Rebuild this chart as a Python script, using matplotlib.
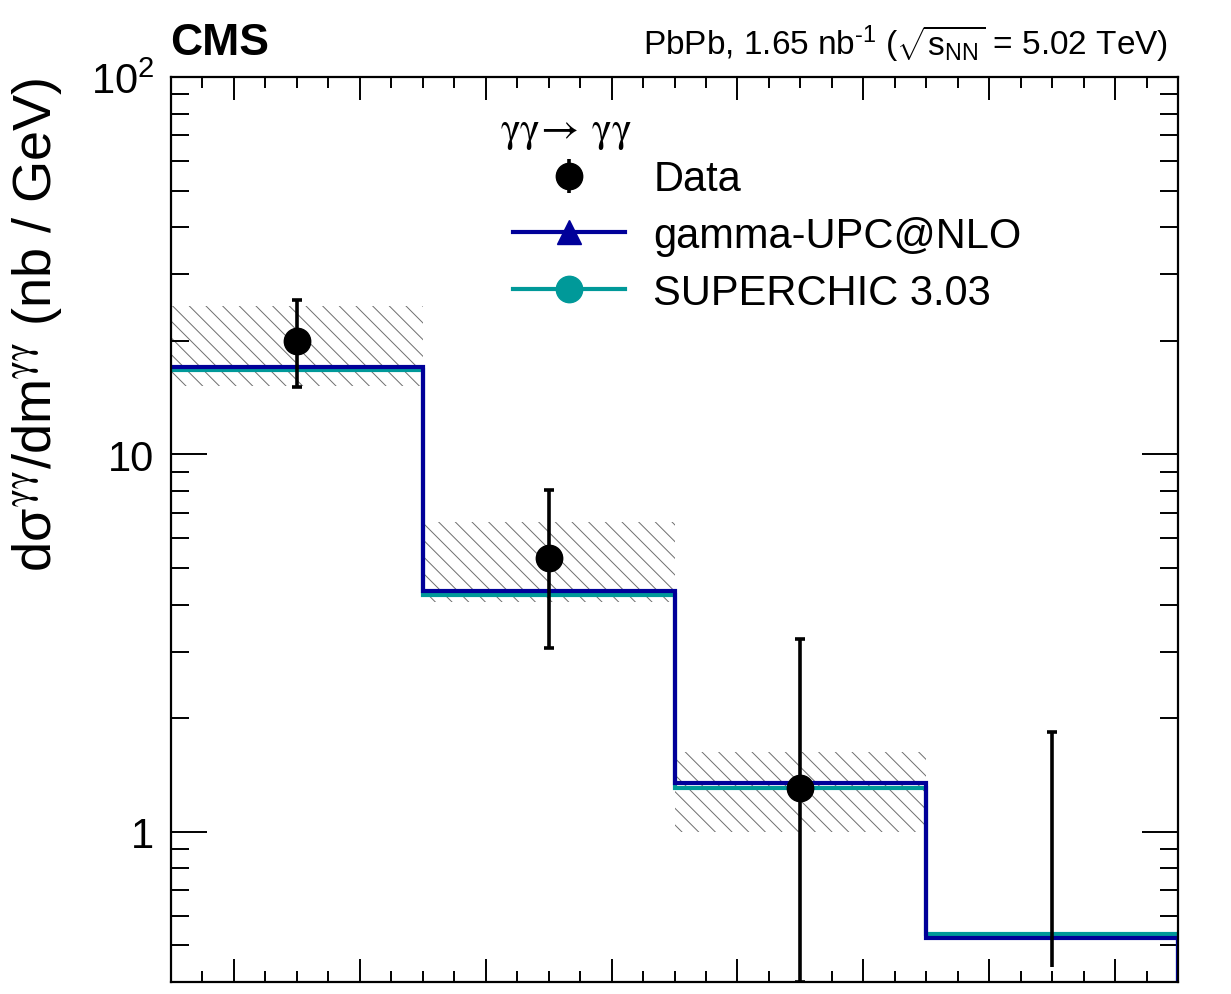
import matplotlib

matplotlib.use("Agg")

import matplotlib.pyplot as plt
import numpy as np
from matplotlib.legend_handler import HandlerTuple
from matplotlib.lines import Line2D
from matplotlib.ticker import MultipleLocator, NullFormatter

# m_gamma-gamma bins (GeV)
BIN_EDGES = [5, 10, 15, 20, 25]

# measured cross section and total uncertainty interval (nb / GeV)
DATA_XSEC = [20.0, 5.33, 1.31, np.nan]
DATA_LOW = [15.1, 3.07, 0.40, 0.438]
DATA_HIGH = [25.7, 8.07, 3.24, 1.84]

# systematic band
SYST_LOW = [15.2, 4.06, 1.00, np.nan]
SYST_HIGH = [24.8, 6.61, 1.63, np.nan]

# predictions
GAMMA_UPC = [17.0, 4.35, 1.35, 0.523]
SUPERCHIC = [16.7, 4.23, 1.31, 0.535]

Y_TICKS = [1, 10, 100]
Y_TICK_LABELS = ["1", "10", r"10$^{2}$"]

LEGEND_LABELS = ["Data", "gamma-UPC@NLO", "SUPERCHIC 3.03"]

BLUE = "#000099"
TEAL = "#009999"
Y_MIN, Y_MAX = 0.4, 100

plt.rcParams["font.family"] = ["Liberation Sans", "DejaVu Sans"]
plt.rcParams["mathtext.fontset"] = "custom"
plt.rcParams["mathtext.rm"] = "Liberation Sans"
plt.rcParams["mathtext.it"] = "Liberation Sans"
plt.rcParams["mathtext.bf"] = "Liberation Sans:bold"
plt.rcParams["mathtext.sf"] = "STIXGeneral"  # symbol-like greek
plt.rcParams["hatch.linewidth"] = 0.7


def main():
    edges = np.array(BIN_EDGES, dtype=float)
    centers = 0.5 * (edges[1:] + edges[:-1])
    widths = np.diff(edges)
    xsec = np.array(DATA_XSEC)
    lo = np.array(DATA_LOW)
    hi = np.array(DATA_HIGH)
    syst_lo = np.array(SYST_LOW)
    syst_hi = np.array(SYST_HIGH)

    fig = plt.figure(figsize=(12.31, 9.95), dpi=100)
    ax = fig.add_axes([0.1389, 0.0121, 0.8181, 0.9095])
    ax.set_yscale("log")

    # systematic uncertainty band
    ax.bar(centers, syst_hi - syst_lo, width=widths, bottom=syst_lo, fill=False,
           hatch="\\\\", edgecolor="#6e6e6e", linewidth=0, zorder=1)

    # predictions, closed off at the right end of the range
    for values, color, z in [(SUPERCHIC, TEAL, 2), (GAMMA_UPC, BLUE, 3)]:
        ax.stairs(values, edges, baseline=None, color=color, linewidth=3.0, zorder=z)
        ax.vlines(edges[-1], Y_MIN, values[-1], color=color, linewidth=3.0, zorder=z)

    has_point = ~np.isnan(xsec)
    ax.errorbar(centers[has_point], xsec[has_point],
                yerr=[xsec[has_point] - lo[has_point], hi[has_point] - xsec[has_point]],
                fmt="o", color="black", markersize=19, elinewidth=2.6,
                capsize=3.5, capthick=2.6, zorder=5)
    # bins without a central value: interval only
    ax.vlines(centers[~has_point], lo[~has_point], hi[~has_point], color="black",
              linewidth=2.6, zorder=5)
    ax.plot(centers[~has_point], hi[~has_point], linestyle="none", marker="_",
            markersize=7, markeredgewidth=2.6, color="black", zorder=5)

    ax.set_xlim(edges[0], edges[-1])
    ax.set_ylim(Y_MIN, Y_MAX)

    ax.xaxis.set_major_locator(MultipleLocator(2.5, offset=1.25))
    ax.xaxis.set_minor_locator(MultipleLocator(0.625))
    ax.set_yticks(Y_TICKS, Y_TICK_LABELS)
    ax.xaxis.set_major_formatter(NullFormatter())
    ax.yaxis.set_minor_formatter(NullFormatter())

    ax.tick_params(axis="both", which="both", direction="in", top=True, right=True,
                   labelbottom=False, width=1.4, color="black")
    ax.tick_params(axis="x", which="major", length=16.5)
    ax.tick_params(axis="x", which="minor", length=8)
    ax.tick_params(axis="y", which="major", length=26, labelsize=30, pad=12)
    ax.tick_params(axis="y", which="minor", length=13)
    for spine in ax.spines.values():
        spine.set_linewidth(1.6)
        spine.set_zorder(10)

    ax.set_ylabel(r"d$\sigma^{\mathsf{\gamma\gamma}}$/dm$^{\mathsf{\gamma\gamma}}$ (nb / GeV)",
                  fontsize=39, loc="top")
    ax.yaxis.set_label_coords(-0.106, 1.0)

    ax.text(0.3267, 0.9403, r"$\mathsf{\gamma\gamma\!\rightarrow\!\ \gamma\gamma}$",
            transform=ax.transAxes, fontsize=30, va="center", ha="left")

    data_handle = (
        Line2D([], [], linestyle="none", marker="|", markersize=24,
               markeredgewidth=2.6, color="black"),
        Line2D([], [], linestyle="none", marker="o", markersize=19, color="black"),
    )
    upc_handle = Line2D([], [], color=BLUE, linewidth=3.0, marker="^", markersize=17)
    sc_handle = Line2D([], [], color=TEAL, linewidth=3.0, marker="o", markersize=19)
    ax.legend([data_handle, upc_handle, sc_handle], LEGEND_LABELS,
              handler_map={tuple: HandlerTuple(ndivide=1)},
              loc="upper left", bbox_to_anchor=(0.3396, 0.909), frameon=False,
              fontsize=30, handlelength=2.7, handletextpad=0.67, labelspacing=0.4,
              borderaxespad=0, borderpad=0)

    fig.text(0.138, 0.9447, "CMS", fontsize=32, fontweight="bold", ha="left", va="baseline")
    fig.text(0.9488, 0.9447, "PbPb, 1.65 nb$^{\u2010\\mathrm{1}}$ ($\\sqrt{s_{\\mathrm{NN}}}$ = 5.02 TeV)",
             fontsize=24, ha="right", va="baseline")

    fig.savefig("out.png", dpi=100)
    plt.close(fig)


if __name__ == "__main__":
    main()
